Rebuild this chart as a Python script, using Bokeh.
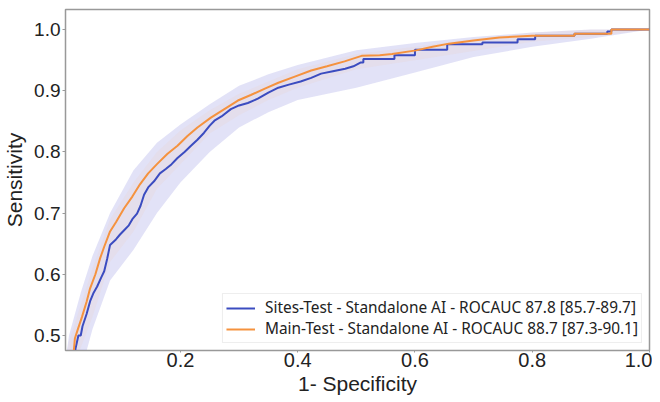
from bokeh.plotting import figure
from bokeh.models import Range1d, FixedTicker, Legend, LegendItem, NumeralTickFormatter
from bokeh.embed import file_html
from bokeh.resources import INLINE

# --- Sites-Test ROC (blue) ---
sites_fpr = [0.018, 0.021, 0.026, 0.030, 0.033, 0.040, 0.046, 0.052, 0.058, 0.065, 0.070, 0.075,
             0.080, 0.090, 0.097, 0.104, 0.112, 0.118, 0.126, 0.132, 0.138, 0.145, 0.155, 0.165,
             0.175, 0.185, 0.195, 0.207, 0.218, 0.229, 0.240, 0.250, 0.258, 0.270, 0.286, 0.300,
             0.315, 0.332, 0.350, 0.367, 0.385, 0.405, 0.423, 0.440, 0.460, 0.481, 0.495, 0.507,
             0.512, 0.512, 0.565, 0.565, 0.600, 0.600, 0.655, 0.655, 0.715, 0.715, 0.775, 0.775,
             0.805, 0.805, 0.872, 0.872, 0.928, 0.928, 0.935, 0.935, 1.0]
sites_tpr = [0.450, 0.478, 0.500, 0.500, 0.515, 0.535, 0.556, 0.570, 0.580, 0.595, 0.605, 0.625,
             0.648, 0.657, 0.665, 0.672, 0.680, 0.690, 0.699, 0.712, 0.730, 0.742, 0.752, 0.765,
             0.772, 0.780, 0.790, 0.800, 0.810, 0.820, 0.831, 0.843, 0.851, 0.858, 0.870, 0.876,
             0.880, 0.887, 0.897, 0.905, 0.910, 0.915, 0.921, 0.928, 0.932, 0.936, 0.940, 0.946,
             0.946, 0.952, 0.952, 0.958, 0.958, 0.967, 0.967, 0.976, 0.976, 0.979, 0.979, 0.984,
             0.984, 0.990, 0.990, 0.993, 0.993, 0.997, 0.997, 1.0, 1.0]

# --- Main-Test ROC (orange) ---
main_fpr = [0.016, 0.020, 0.025, 0.032, 0.040, 0.046, 0.055, 0.063, 0.070, 0.080, 0.090, 0.104,
            0.118, 0.131, 0.145, 0.160, 0.178, 0.195, 0.212, 0.229, 0.252, 0.275, 0.298, 0.320,
            0.345, 0.367, 0.395, 0.423, 0.450, 0.480, 0.509, 0.540, 0.561, 0.602, 0.630, 0.658,
            0.700, 0.744, 0.800, 0.872, 0.872, 0.935, 0.935, 1.0]
main_tpr = [0.450, 0.495, 0.510, 0.530, 0.555, 0.577, 0.600, 0.626, 0.645, 0.670, 0.685, 0.708,
            0.727, 0.747, 0.765, 0.780, 0.797, 0.810, 0.826, 0.840, 0.856, 0.870, 0.884, 0.893,
            0.904, 0.913, 0.923, 0.933, 0.940, 0.948, 0.957, 0.958, 0.960, 0.966, 0.972, 0.977,
            0.982, 0.987, 0.990, 0.990, 0.993, 0.993, 1.0, 1.0]

# --- confidence bands ---
band_fpr = [0.004, 0.01, 0.03, 0.05, 0.08, 0.12, 0.16, 0.20, 0.25, 0.30, 0.35, 0.40, 0.50, 0.60,
            0.70, 0.80, 0.90, 1.0]
sites_lo = [0.36, 0.38, 0.44, 0.51, 0.59, 0.64, 0.70, 0.75, 0.80, 0.84, 0.865, 0.885, 0.905, 0.93,
            0.955, 0.972, 0.985, 1.0]
sites_hi = [0.46, 0.50, 0.57, 0.63, 0.70, 0.77, 0.815, 0.845, 0.878, 0.908, 0.927, 0.942, 0.966,
            0.978, 0.988, 0.995, 1.0, 1.0]
main_lo = [0.40, 0.43, 0.48, 0.53, 0.62, 0.67, 0.74, 0.78, 0.83, 0.86, 0.885, 0.905, 0.935, 0.950,
           0.965, 0.980, 0.988, 1.0]
main_hi = [0.46, 0.49, 0.55, 0.61, 0.69, 0.75, 0.80, 0.835, 0.868, 0.895, 0.915, 0.935, 0.960,
           0.972, 0.985, 0.995, 1.0, 1.0]

sites_label = "Sites-Test - Standalone AI - ROCAUC 87.8 [85.7-89.7]"
main_label = "Main-Test - Standalone AI - ROCAUC 88.7 [87.3-90.1]"

x_ticks = [0.2, 0.4, 0.6, 0.8, 1.0]
y_ticks = [0.5, 0.6, 0.7, 0.8, 0.9, 1.0]

p = figure(width=652, height=400, output_backend="svg", toolbar_location=None,
           x_range=Range1d(0.004, 1.0), y_range=Range1d(0.4754, 1.0328),
           min_border_left=60, min_border_right=3, min_border_top=9, min_border_bottom=50)

p.varea(x=band_fpr, y1=sites_lo, y2=sites_hi, fill_color="#7070d8", fill_alpha=0.2)
p.varea(x=band_fpr, y1=main_lo, y2=main_hi, fill_color="#ffb070", fill_alpha=0.08)
r1 = p.line(sites_fpr, sites_tpr, line_color="#3b4cc0", line_width=2)
r2 = p.line(main_fpr, main_tpr, line_color="#f5923e", line_width=2)

legend = Legend(items=[LegendItem(label=sites_label, renderers=[r1]),
                       LegendItem(label=main_label, renderers=[r2])],
                location="bottom_right")
legend.label_text_font = "Noto Sans"
legend.label_text_font_size = "15.4px"
legend.label_text_color = "#222222"
legend.glyph_width = 29
legend.glyph_height = 18
legend.label_height = 18
legend.spacing = 0
legend.padding = 3
legend.margin = 7
legend.label_standoff = 10
legend.border_line_color = "#dddddd"
legend.background_fill_alpha = 0.85
p.add_layout(legend)

p.grid.visible = False
p.outline_line_color = "#999999"
p.outline_line_width = 1.5

for ax in (p.xaxis[0], p.yaxis[0]):
    ax.axis_line_color = "#999999"
    ax.major_tick_line_color = "#999999"
    ax.major_tick_in = 0
    ax.minor_tick_line_color = None
    ax.major_label_text_font = "Liberation Sans"
    ax.major_label_text_color = "#222222"
    ax.axis_label_text_font = "Liberation Sans"
    ax.axis_label_text_font_size = "21px"
    ax.axis_label_text_font_style = "normal"
    ax.axis_label_text_color = "#222222"
    ax.formatter = NumeralTickFormatter(format="0.0")

p.xaxis.ticker = FixedTicker(ticks=x_ticks)
p.yaxis.ticker = FixedTicker(ticks=y_ticks)
p.xaxis.axis_label = "1- Specificity"
p.yaxis.axis_label = "Sensitivity"
p.xaxis.major_label_text_font_size = "20px"
p.yaxis.major_label_text_font_size = "19px"
p.xaxis.major_tick_out = 2
p.yaxis.major_tick_out = 3
p.xaxis.major_label_standoff = 0
p.yaxis.major_label_standoff = 2
p.xaxis.axis_label_standoff = 2
p.yaxis.axis_label_standoff = 5

open("out.html", "w").write(file_html(p, INLINE))
